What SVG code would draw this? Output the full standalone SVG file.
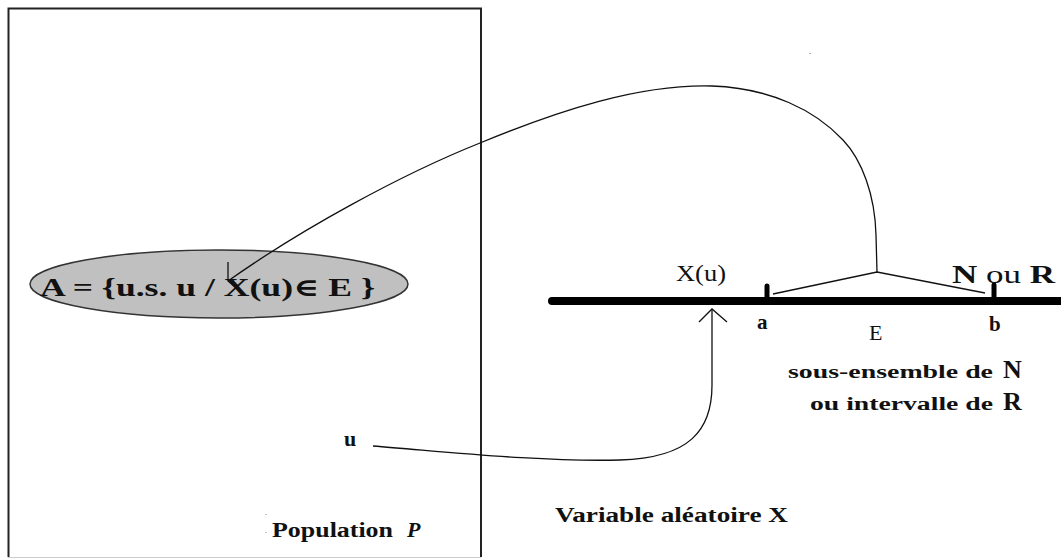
<svg xmlns="http://www.w3.org/2000/svg" width="1061" height="559" viewBox="0 0 1061 559">
<style>
text{font-family:"Liberation Serif","DejaVu Serif","Noto Serif",serif;fill:#111}
.b{font-weight:bold}
.r{font-weight:normal}
.ln{fill:none;stroke:#111;stroke-width:1.3}
</style>
<rect width="1061" height="559" fill="#fff"/>
<g id="population">
<path d="M8.5 557 V8.5 H481 V557" fill="none" stroke="#222" stroke-width="2"/>
<line x1="8" y1="557.5" x2="481" y2="557.5" stroke="#ccc" stroke-width="1"/>
<text class="b" x="272" y="537" font-size="20" textLength="121" lengthAdjust="spacingAndGlyphs">Population</text>
<text class="b" x="407" y="537" font-size="22" font-style="italic">P</text>
<rect x="265.5" y="514" width="1" height="1" fill="#888"/>
<rect x="265.5" y="532" width="1" height="1" fill="#888"/>
</g>
<g id="setA">
<ellipse cx="219" cy="284" rx="189" ry="34" fill="#c0c0c0" stroke="#333" stroke-width="1.5"/>
<text class="b" x="40" y="296" font-size="25" textLength="335" lengthAdjust="spacingAndGlyphs">A = {u.s. u / X(u)∈ E }</text>
</g>
<g id="u">
<text class="b" x="344" y="446" font-size="22">u</text>
</g>
<g id="axis">
<line x1="552" y1="301" x2="1061" y2="301" stroke="#000" stroke-width="8" stroke-linecap="round"/>
<line x1="767" y1="286" x2="767" y2="301" stroke="#000" stroke-width="5" stroke-linecap="round"/>
<line x1="994" y1="285" x2="994" y2="301" stroke="#000" stroke-width="5" stroke-linecap="round"/>
<text x="676" y="281" font-size="23" textLength="50" lengthAdjust="spacingAndGlyphs">X(u)</text>
<text class="b" x="952" y="283" font-size="26" textLength="103" lengthAdjust="spacingAndGlyphs">N <tspan class="r">ou</tspan> R</text>
<text class="b" x="757" y="329" font-size="21">a</text>
<text x="869" y="340" font-size="22">E</text>
<text class="b" x="989" y="331" font-size="21">b</text>
<text class="b" x="788" y="378" font-size="18" textLength="205" lengthAdjust="spacingAndGlyphs">sous-ensemble de</text>
<text class="b" x="1003" y="378" font-size="26">N</text>
<text class="b" x="810" y="410" font-size="18" textLength="183" lengthAdjust="spacingAndGlyphs">ou intervalle de</text>
<text class="b" x="1003" y="410" font-size="26">R</text>
<text class="b" x="555" y="522" font-size="20" textLength="233" lengthAdjust="spacingAndGlyphs">Variable aléatoire X</text>
</g>
<g id="connectors">
<polyline class="ln" points="773,294 877,272 985,293"/>
<path class="ln" d="M877 272 L876 235 C875 195 862 160 843 140 C815 110 770 88 712 86 C640 84 560 110 480 143 C400 175 300 230 228 281"/>
<polyline class="ln" points="228,262 228,281 243,294"/>
<path class="ln" d="M373 446 C450 452 540 462 620 460 C690 458 712 430 712 385 L712 309"/>
<polyline class="ln" points="699,322 712,309 727,322"/>
</g>
<rect x="809.5" y="53" width="1" height="1" fill="#666"/>
</svg>
